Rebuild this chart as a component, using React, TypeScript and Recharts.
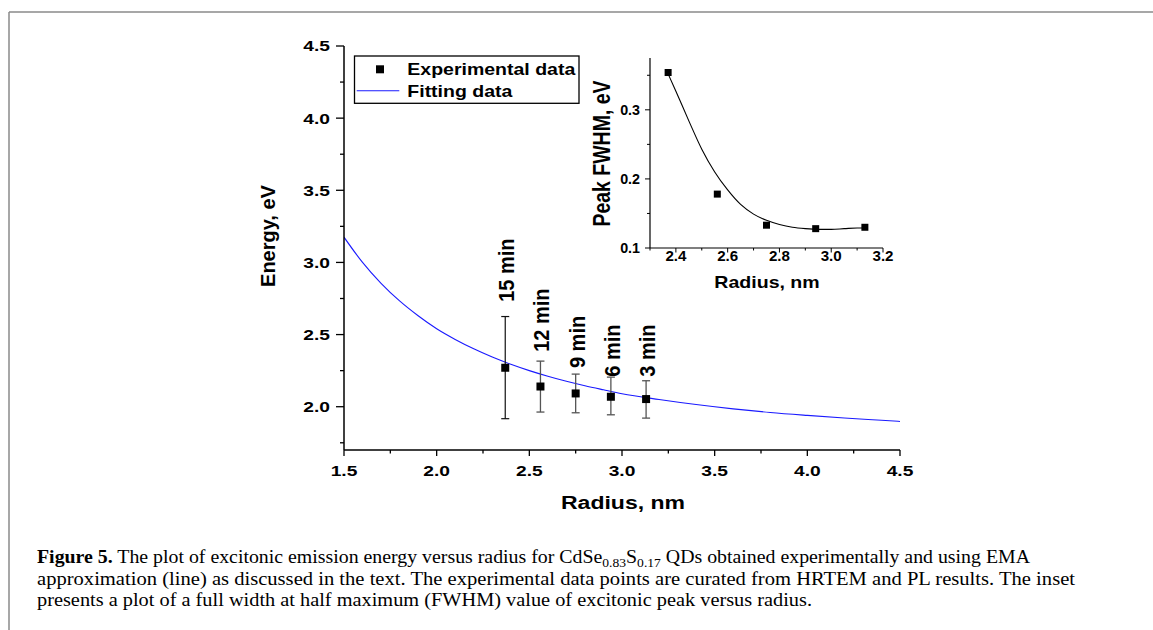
import React from 'react';
import { ComposedChart, Line, Scatter, XAxis, YAxis, ErrorBar } from 'recharts';

const SANS = '"Liberation Sans", Arial, Helvetica, sans-serif';
const SERIF = '"Liberation Serif", "Times New Roman", serif';

// ---------- main plot data ----------
const radius = [2.37, 2.56, 2.75, 2.94, 3.13];
const energy = [2.27, 2.14, 2.092, 2.069, 2.053];
const errLow = [0.353, 0.177, 0.134, 0.125, 0.132];
const errHigh = [0.355, 0.176, 0.134, 0.136, 0.127];
const timeLabels = ['15 min', '12 min', '9 min', '6 min', '3 min'];
const labelBase = [2.727, 2.381, 2.268, 2.208, 2.208];

const fitR = [1.5, 1.6, 1.7, 1.8, 1.9, 2.0, 2.1, 2.2, 2.3, 2.4, 2.5, 2.6, 2.7, 2.8, 2.9, 3.0, 3.2, 3.4, 3.6, 3.8, 4.0, 4.2, 4.4, 4.5];
const fitE = [3.175, 3.0, 2.855, 2.733, 2.63, 2.54, 2.466, 2.401, 2.344, 2.294, 2.25, 2.211, 2.176, 2.145, 2.117, 2.09, 2.05, 2.015, 1.985, 1.96, 1.94, 1.922, 1.906, 1.898];

const mainXTicks = [1.5, 1.75, 2.0, 2.25, 2.5, 2.75, 3.0, 3.25, 3.5, 3.75, 4.0, 4.25, 4.5];
const mainYTicks = [1.75, 2.0, 2.25, 2.5, 2.75, 3.0, 3.25, 3.5, 3.75, 4.0, 4.25, 4.5];

// ---------- inset data ----------
const fwhm = [0.354, 0.178, 0.133, 0.128, 0.13];
const insetFitR = [2.37, 2.4, 2.45, 2.5, 2.55, 2.6, 2.65, 2.7, 2.75, 2.8, 2.85, 2.9, 2.95, 3.0, 3.05, 3.1, 3.13];
const insetFitW = [0.352, 0.327, 0.284, 0.243, 0.21, 0.184, 0.163, 0.149, 0.14, 0.134, 0.13, 0.128, 0.127, 0.127, 0.128, 0.129, 0.129];
const insetXTicks = [2.3, 2.4, 2.5, 2.6, 2.7, 2.8, 2.9, 3.0, 3.1, 3.2];
const insetYTicks = [0.1, 0.15, 0.2, 0.25, 0.3, 0.35];

const expData = radius.map((r, i) => ({ x: r, y: energy[i], err: [errLow[i], errHigh[i]] }));
const expFirst = expData.slice(0, 1);
const expRest = expData.slice(1);
const labelData = radius.map((r, i) => ({ x: r, y: labelBase[i], text: timeLabels[i] }));
const fitData = fitR.map((r, i) => ({ x: r, y: fitE[i] }));
const insetPts = radius.map((r, i) => ({ x: r, y: fwhm[i] }));
const insetFit = insetFitR.map((r, i) => ({ x: r, y: insetFitW[i] }));

const isMajor = (v: number, step: number) => Math.abs(v / step - Math.round(v / step)) < 1e-6;

function SText({ x, y, size, sx = 1, anchor = 'middle', rotate = 0, bold = true, children }: any) {
  return (
    <text
      transform={`translate(${x},${y}) scale(${sx},1) rotate(${rotate})`}
      textAnchor={anchor}
      fontSize={size}
      fontWeight={bold ? 'bold' : 'normal'}
      fontFamily={SANS}
      fill="#000"
    >
      {children}
    </text>
  );
}

function MainXTick(props: any) {
  const { x, y, payload } = props;
  const v = payload.value;
  const major = isMajor(v, 0.5);
  return (
    <g>
      <line x1={x} y1={y} x2={x} y2={y + (major ? 6 : 3.5)} stroke="#000" strokeWidth={1.3} />
      {major && (
        <SText x={x} y={y + 25.7} size={15} sx={1.28}>
          {v.toFixed(1)}
        </SText>
      )}
    </g>
  );
}

function MainYTick(props: any) {
  const { x, y, payload } = props;
  const v = payload.value;
  const major = isMajor(v, 0.5);
  return (
    <g>
      <line x1={x} y1={y} x2={x - (major ? 8 : 4)} y2={y} stroke="#000" strokeWidth={1.3} />
      {major && (
        <SText x={x - 14} y={y + 5.4} size={15} sx={1.28} anchor="end">
          {v.toFixed(1)}
        </SText>
      )}
    </g>
  );
}

function InsetXTick(props: any) {
  const { x, y, payload } = props;
  const v = payload.value;
  const major = isMajor(v, 0.2);
  return (
    <g>
      <line x1={x} y1={y} x2={x} y2={y + (major ? 4.5 : 2.5)} stroke="#000" strokeWidth={1} />
      {major && (
        <SText x={x} y={y + 12.5} size={14} sx={1.08}>
          {v.toFixed(1)}
        </SText>
      )}
    </g>
  );
}

function InsetYTick(props: any) {
  const { x, y, payload } = props;
  const v = payload.value;
  const major = isMajor(v, 0.1);
  return (
    <g>
      <line x1={x} y1={y} x2={x - (major ? 5 : 3)} y2={y} stroke="#000" strokeWidth={1} />
      {major && (
        <SText x={x - 10} y={y + 5} size={14} sx={1.02} anchor="end">
          {v.toFixed(1)}
        </SText>
      )}
    </g>
  );
}

const squareShape = (s: number) => (p: any) => (
  <rect x={p.cx - s / 2} y={p.cy - s / 2} width={s} height={s} fill="#000" />
);

const labelShape = (p: any) => (
  <SText x={p.cx + 9} y={p.cy} rotate={-90} anchor="start" size={20} sx={1.12}>
    {p.payload.text}
  </SText>
);

export default function App() {
  const W = 1153;
  const H = 630;
  return (
    <div style={{ position: 'absolute', left: 0, top: 0, width: W, height: H, background: '#fff', overflow: 'hidden' }}>
      {/* main chart */}
      <div style={{ position: 'absolute', left: 0, top: 0 }}>
        <ComposedChart width={W} height={H} margin={{ top: 46, right: 253, bottom: 0, left: 0 }}>
          <XAxis
            xAxisId={0}
            dataKey="x"
            type="number"
            domain={[1.5, 4.5]}
            ticks={mainXTicks}
            interval={0}
            height={180}
            tickSize={0}
            tickMargin={0}
            tickLine={false}
            tick={<MainXTick />}
            axisLine={{ stroke: '#000', strokeWidth: 1.5 }}
            allowDataOverflow
          />
          <XAxis
            xAxisId="top"
            orientation="top"
            type="number"
            domain={[1.5, 4.5]}
            height={0}
            tick={false}
            tickLine={false}
            axisLine={{ stroke: '#000', strokeWidth: 1.5 }}
          />
          <YAxis
            yAxisId={0}
            type="number"
            domain={[1.7, 4.5]}
            ticks={mainYTicks}
            interval={0}
            width={344}
            tickSize={0}
            tickMargin={0}
            tickLine={false}
            tick={<MainYTick />}
            axisLine={{ stroke: '#000', strokeWidth: 1.5 }}
            allowDataOverflow
          />
          <YAxis
            yAxisId="right"
            orientation="right"
            type="number"
            domain={[1.7, 4.5]}
            width={0}
            tick={false}
            tickLine={false}
            axisLine={{ stroke: '#000', strokeWidth: 1.5 }}
          />
          <Line
            data={fitData}
            dataKey="y"
            type="monotone"
            stroke="#1a1aff"
            strokeWidth={1.1}
            dot={false}
            activeDot={false}
            isAnimationActive={false}
          />
          <Scatter data={expFirst} dataKey="y" shape={squareShape(8)} isAnimationActive={false}>
            <ErrorBar dataKey="err" direction="y" width={4} stroke="#111" strokeWidth={1.2} />
          </Scatter>
          <Scatter data={expRest} dataKey="y" shape={squareShape(8)} isAnimationActive={false}>
            <ErrorBar dataKey="err" direction="y" width={4} stroke="#555" strokeWidth={1.3} />
          </Scatter>
          <Scatter data={labelData} dataKey="y" shape={labelShape} isAnimationActive={false} />
        </ComposedChart>
      </div>

      {/* inset chart */}
      <div style={{ position: 'absolute', left: 0, top: 0 }}>
        <ComposedChart width={W} height={H} margin={{ top: 58, right: 270, bottom: 0, left: 0 }}>
          <XAxis
            xAxisId={0}
            dataKey="x"
            type="number"
            domain={[2.3, 3.2]}
            ticks={insetXTicks}
            interval={0}
            height={382}
            tickSize={0}
            tickMargin={0}
            tickLine={false}
            tick={<InsetXTick />}
            axisLine={{ stroke: '#000', strokeWidth: 1.2 }}
            allowDataOverflow
          />
          <XAxis
            xAxisId="top"
            orientation="top"
            type="number"
            domain={[2.3, 3.2]}
            height={0}
            tick={false}
            tickLine={false}
            axisLine={{ stroke: '#000', strokeWidth: 1.2 }}
          />
          <YAxis
            yAxisId={0}
            type="number"
            domain={[0.1, 0.375]}
            ticks={insetYTicks}
            interval={0}
            width={650}
            tickSize={0}
            tickMargin={0}
            tickLine={false}
            tick={<InsetYTick />}
            axisLine={{ stroke: '#000', strokeWidth: 1.2 }}
            allowDataOverflow
          />
          <YAxis
            yAxisId="right"
            orientation="right"
            type="number"
            domain={[0.1, 0.375]}
            width={0}
            tick={false}
            tickLine={false}
            axisLine={{ stroke: '#000', strokeWidth: 1.2 }}
          />
          <Line
            data={insetFit}
            dataKey="y"
            type="monotone"
            stroke="#000"
            strokeWidth={1.1}
            dot={false}
            activeDot={false}
            isAnimationActive={false}
          />
          <Scatter data={insetPts} dataKey="y" shape={squareShape(7)} isAnimationActive={false} />
        </ComposedChart>
      </div>

      {/* overlay: titles, legend, frame, caption */}
      <svg width={W} height={H} style={{ position: 'absolute', left: 0, top: 0 }}>
        <line x1={9} y1={12} x2={W} y2={12} stroke="#8a8a8a" strokeWidth={1.5} />
        <line x1={9} y1={12} x2={9} y2={H} stroke="#8a8a8a" strokeWidth={1.5} />

        <SText x={275} y={236} rotate={-90} size={20} sx={1.05}>Energy, eV</SText>
        <SText x={623} y={509} size={18} sx={1.28}>Radius, nm</SText>

        <SText x={610} y={153.5} rotate={-90} size={19.5} sx={1.2}>Peak FWHM, eV</SText>
        <SText x={767} y={288.3} size={16.3} sx={1.2}>Radius, nm</SText>

        <rect x={354.5} y={56} width={224.5} height={47.3} fill="#fff" stroke="#000" strokeWidth={1.3} />
        <rect x={376} y={65.3} width={8} height={8} fill="#000" />
        <SText x={407.3} y={75} size={16} sx={1.22} anchor="start">Experimental data</SText>
        <line x1={356.7} y1={90.7} x2={399.3} y2={90.7} stroke="#1a1aff" strokeWidth={1.1} />
        <SText x={407.3} y={96.7} size={16} sx={1.22} anchor="start">Fitting data</SText>

        <text x={37} y={563.3} fontFamily={SERIF} fontSize={19} fill="#000" textLength={993} lengthAdjust="spacingAndGlyphs">
          <tspan fontWeight="bold">Figure 5.</tspan>
          <tspan> The plot of excitonic emission energy versus radius for CdSe</tspan>
          <tspan fontSize={13} dy={4}>0.83</tspan>
          <tspan dy={-4}>S</tspan>
          <tspan fontSize={13} dy={4}>0.17</tspan>
          <tspan dy={-4}> QDs obtained experimentally and using EMA</tspan>
        </text>
        <text x={37} y={585} fontFamily={SERIF} fontSize={19} fill="#000" textLength={1038} lengthAdjust="spacingAndGlyphs">
          approximation (line) as discussed in the text. The experimental data points are curated from HRTEM and PL results. The inset
        </text>
        <text x={37} y={606} fontFamily={SERIF} fontSize={19} fill="#000" textLength={775} lengthAdjust="spacingAndGlyphs">
          presents a plot of a full width at half maximum (FWHM) value of excitonic peak versus radius.
        </text>
      </svg>
    </div>
  );
}
